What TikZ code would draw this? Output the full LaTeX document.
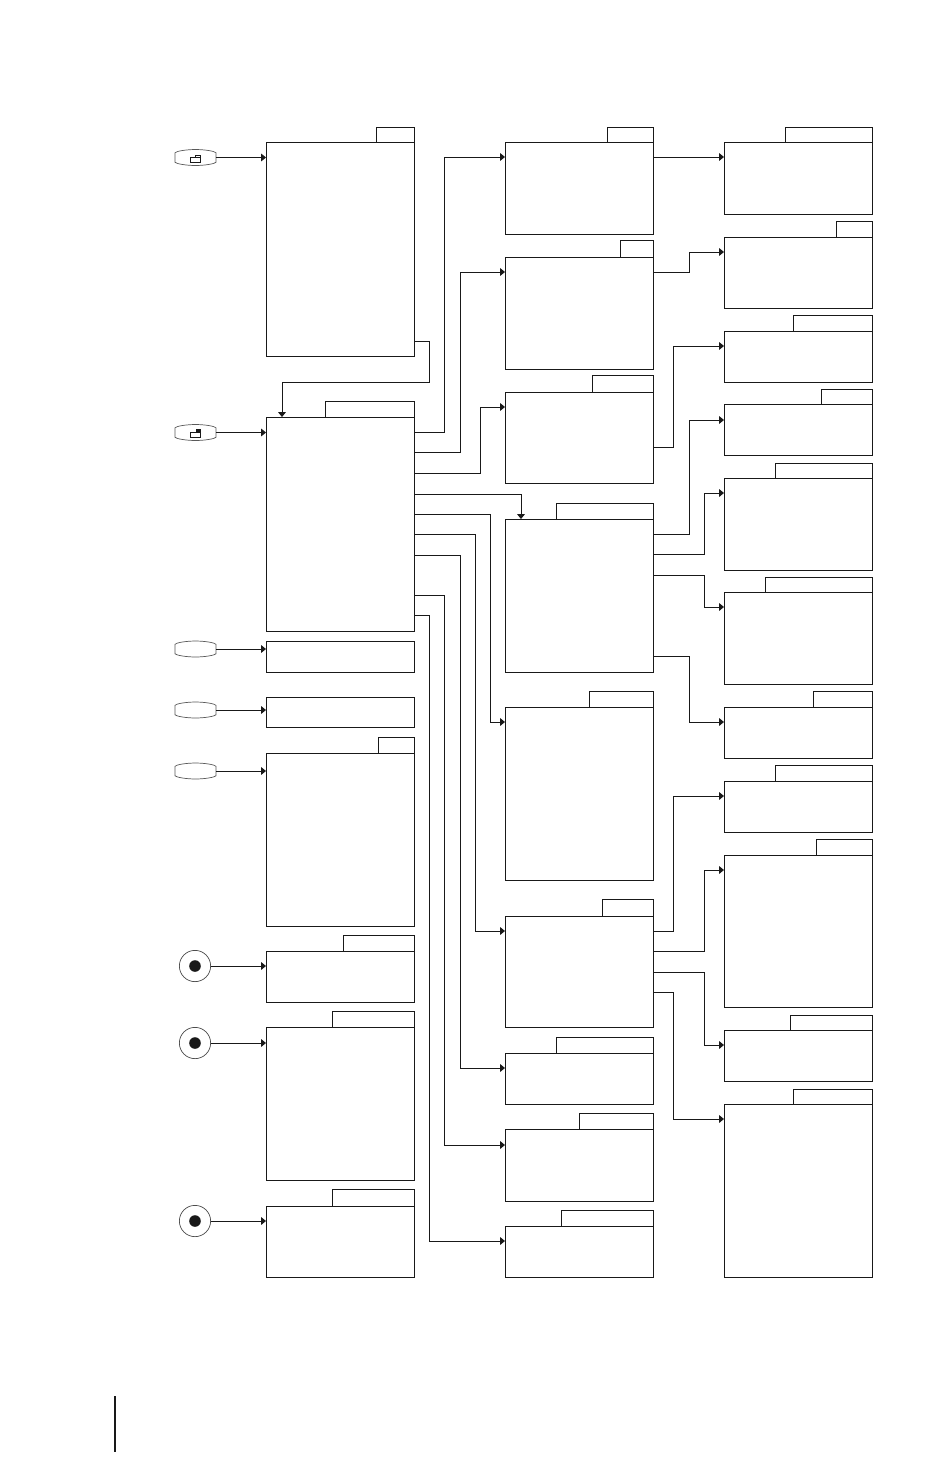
\documentclass[tikz,border=0pt]{standalone}
\usetikzlibrary{arrows.meta,calc}
\definecolor{ink}{gray}{0.1}
\tikzset{
  x=0.05cm,y=-0.05cm,
  frame/.style={draw=ink,line width=1.3pt,inner sep=0pt,outer sep=0pt},
  conn/.style={draw=ink,line width=1.3pt,-{Triangle[length=7pt,width=11pt]}},
  btnline/.style={draw=black!65,line width=1pt},
  icon/.style={draw=ink,line width=1.1pt},
  ring/.style={circle,draw=black!70,line width=1pt,minimum size=44.5pt,inner sep=0pt,outer sep=0pt},
  hit/.style={inner sep=0pt,outer sep=0pt,minimum width=58.1pt,minimum height=22.7pt}
}
% name, left, right, top, bottom
\newcommand{\plainbox}[5]{%
  \node[frame,minimum width={(#3-#2)*1.42265pt},minimum height={(#5-#4)*1.42265pt}] (#1) at ({(#2+#3)/2},{(#4+#5)/2}) {};}
% name, left, right, top, bottom, tableft, tabtop
\newcommand{\tabbox}[7]{%
  \node[frame,minimum width={(#3-#6)*1.42265pt},minimum height={(#4-#7+0.5)*1.42265pt}] (#1tab) at ({(#6+#3)/2},{(#4+#7-0.5)/2}) {};
  \plainbox{#1}{#2}{#3}{#4}{#5}}
% button: name, centre y
\newcommand{\btn}[2]{%
  \node[hit] (#1) at (195.5,#2) {};
  \draw[btnline] ($(#1.north west)+(0,3.2)$) .. controls +(1,-1.4) and +(-10,0) .. (#1.north) .. controls +(10,0) and +(-1,-1.4) .. ($(#1.north east)+(0,3.2)$)
    -- ($(#1.south east)+(0,-3.2)$) .. controls +(-1,1.4) and +(10,0) .. (#1.south) .. controls +(-10,0) and +(1,1.4) .. ($(#1.south west)+(0,-3.2)$) -- cycle;}
% connector from a box's right side with one vertical run: from, y1, x, to, y2
\newcommand{\run}[5]{%
  \draw[conn] (#1.east |- 0,#2) -- (#3,#2) -- (#3,#5) -- (#4.west |- 0,#5);}
\begin{document}
\begin{tikzpicture}
\useasboundingbox (0,0) rectangle (950,1459);
\fill[white] (0,0) rectangle (950,1459);
% column A
\tabbox{Aa}{266}{414}{142}{356}{376}{128}
\tabbox{Ab}{266}{414}{417}{631}{325}{402}
\plainbox{Ac}{266}{414}{641}{672}
\plainbox{Ad}{266}{414}{697}{727}
\tabbox{Ae}{266}{414}{753}{926}{378}{738}
\tabbox{Af}{266}{414}{951}{1002}{343}{936}
\tabbox{Ag}{266}{414}{1027}{1180}{332}{1012}
\tabbox{Ah}{266}{414}{1206}{1277}{332}{1190}
% column B
\tabbox{Ba}{505}{653}{142}{234}{607}{128}
\tabbox{Bb}{505}{653}{257}{369}{620}{241}
\tabbox{Bc}{505}{653}{392}{483}{592}{376}
\tabbox{Bd}{505}{653}{519}{672}{556}{504}
\tabbox{Be}{505}{653}{707}{880}{589}{692}
\tabbox{Bf}{505}{653}{916}{1027}{602}{900}
\tabbox{Bg}{505}{653}{1053}{1104}{556}{1038}
\tabbox{Bh}{505}{653}{1129}{1201}{579}{1114}
\tabbox{Bi}{505}{653}{1226}{1277}{561}{1211}
% column C
\tabbox{Ca}{724}{872}{142}{214}{785}{128}
\tabbox{Cb}{724}{872}{237}{308}{836}{222}
\tabbox{Cc}{724}{872}{331}{382}{793}{316}
\tabbox{Cd}{724}{872}{404}{455}{821}{390}
\tabbox{Ce}{724}{872}{478}{570}{775}{464}
\tabbox{Cf}{724}{872}{592}{684}{765}{578}
\tabbox{Cg}{724}{872}{707}{758}{813}{692}
\tabbox{Ch}{724}{872}{781}{832}{775}{766}
\tabbox{Ci}{724}{872}{855}{1007}{816}{840}
\tabbox{Cj}{724}{872}{1030}{1081}{790}{1016}
\tabbox{Ck}{724}{872}{1104}{1277}{793}{1090}
% buttons
\btn{ba}{157.5}
\btn{bb}{432.5}
\btn{bc}{649}
\btn{bd}{710}
\btn{be}{771}
% folder icons
\draw[icon] (190.5,157) rectangle (200.5,162);
\draw[icon] (190.5,157) -- (195.5,157) -- (195.5,155.5) -- (200.5,155.5) -- (200.5,157);
\draw[icon] (190.5,432) rectangle (200.5,437);
\fill[ink] (196,429) rectangle (201,432);
% round buttons
\node[ring] (ra) at (195,966) {};
\node[ring] (rb) at (195,1043) {};
\node[ring] (rc) at (195,1221) {};
\fill[ink] (ra) circle (5.8);
\fill[ink] (rb) circle (5.8);
\fill[ink] (rc) circle (5.8);
% entry connectors
\draw[conn] (ba.east) -- (Aa.west |- ba.east);
\draw[conn] (bb.east) -- (Ab.west |- bb.east);
\draw[conn] (bc.east) -- (Ac.west |- bc.east);
\draw[conn] (bd.east) -- (Ad.west |- bd.east);
\draw[conn] (be.east) -- (Ae.west |- be.east);
\draw[conn] (ra.east) -- (Af.west |- ra.east);
\draw[conn] (rb.east) -- (Ag.west |- rb.east);
\draw[conn] (rc.east) -- (Ah.west |- rc.east);
% A to A
\draw[conn] (Aa.east |- 0,341) -- (429.5,341) -- (429.5,382) -- (282,382) -- (Ab.north -| 282,0);
% A to B
\run{Ab}{432}{444}{Ba}{157}
\run{Ab}{452.5}{460}{Bb}{272}
\run{Ab}{473}{480.5}{Bc}{407}
\draw[conn] (Ab.east |- 0,494) -- (521,494) -- (Bd.north -| 521,0);
\run{Ab}{514}{490.5}{Be}{722}
\run{Ab}{534.5}{475}{Bf}{931}
\run{Ab}{555}{460}{Bg}{1068}
\run{Ab}{595}{444}{Bh}{1145}
\run{Ab}{615}{429.5}{Bi}{1241}
% B to C
\draw[conn] (Ba.east |- 0,157) -- (Ca.west |- 0,157);
\run{Bb}{272}{689.5}{Cb}{252}
\run{Bc}{447}{673.5}{Cc}{346}
\run{Bd}{534.5}{689.5}{Cd}{420}
\run{Bd}{554.5}{704.5}{Ce}{493}
\run{Bd}{575}{704.5}{Cf}{607}
\run{Bd}{656}{689.5}{Cg}{722}
\run{Bf}{931}{673.5}{Ch}{796}
\run{Bf}{951}{704.5}{Ci}{870}
\run{Bf}{972}{704.5}{Cj}{1045}
\run{Bf}{992}{673.5}{Ck}{1119}
% page rule
\fill[ink] (114,1396) rectangle (116,1452);
\end{tikzpicture}
\end{document}
